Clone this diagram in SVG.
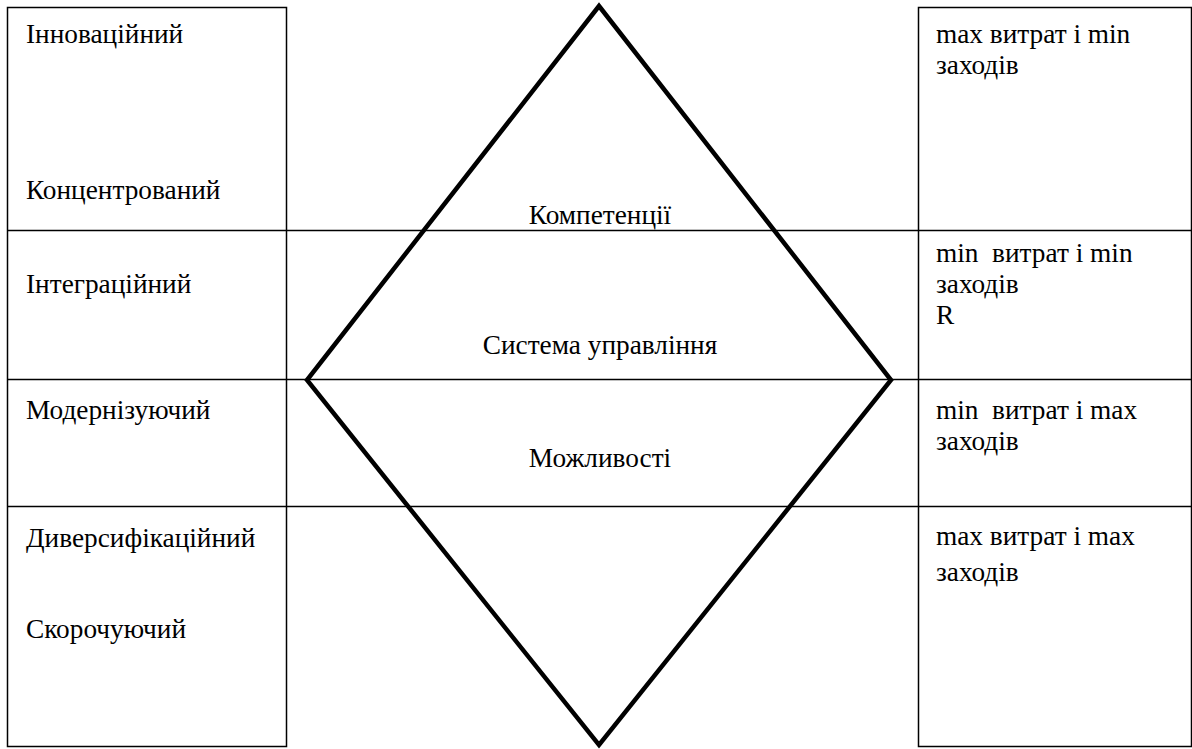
<svg xmlns="http://www.w3.org/2000/svg" width="1192" height="749" viewBox="0 0 1192 749">
<style>
.thin{fill:none;stroke:#000;stroke-width:1.5}
.thick{fill:none;stroke:#000;stroke-width:4.5;stroke-linejoin:miter}
.c{text-anchor:middle}
</style>
<rect width="1192" height="749" fill="#fff"/>
<g font-family="Liberation Serif" font-size="27.3" fill="#000">
<g id="left-box">
<rect class="thin" x="7.5" y="7.5" width="279" height="739"/>
<text x="26" y="43">Інноваційний</text>
<text x="26" y="199">Концентрований</text>
<text x="26" y="293">Інтеграційний</text>
<text x="26" y="419">Модернізуючий</text>
<text x="26" y="547">Диверсифікаційний</text>
<text x="26" y="638">Скорочуючий</text>
</g>
<g id="right-box">
<rect class="thin" x="918.5" y="7.5" width="273" height="739"/>
<text x="936" y="43">max витрат і min</text>
<text x="936" y="74">заходів</text>
<text x="936" y="262" xml:space="preserve">min  витрат і min</text>
<text x="936" y="293">заходів</text>
<text x="936" y="324">R</text>
<text x="936" y="419" xml:space="preserve">min  витрат і max</text>
<text x="936" y="450">заходів</text>
<text x="936" y="545">max витрат і max</text>
<text x="936" y="581">заходів</text>
</g>
<g id="connectors">
<line class="thin" x1="7" y1="230.5" x2="1192" y2="230.5"/>
<line class="thin" x1="7" y1="379.5" x2="1192" y2="379.5"/>
<line class="thin" x1="7" y1="506.5" x2="1192" y2="506.5"/>
</g>
<g id="diamond">
<polygon class="thick" points="599,6 891,380 599,745 307,380"/>
<text class="c" x="600" y="224">Компетенції</text>
<text class="c" x="600" y="354">Система управління</text>
<text class="c" x="600" y="467">Можливості</text>
</g>
</g>
</svg>
